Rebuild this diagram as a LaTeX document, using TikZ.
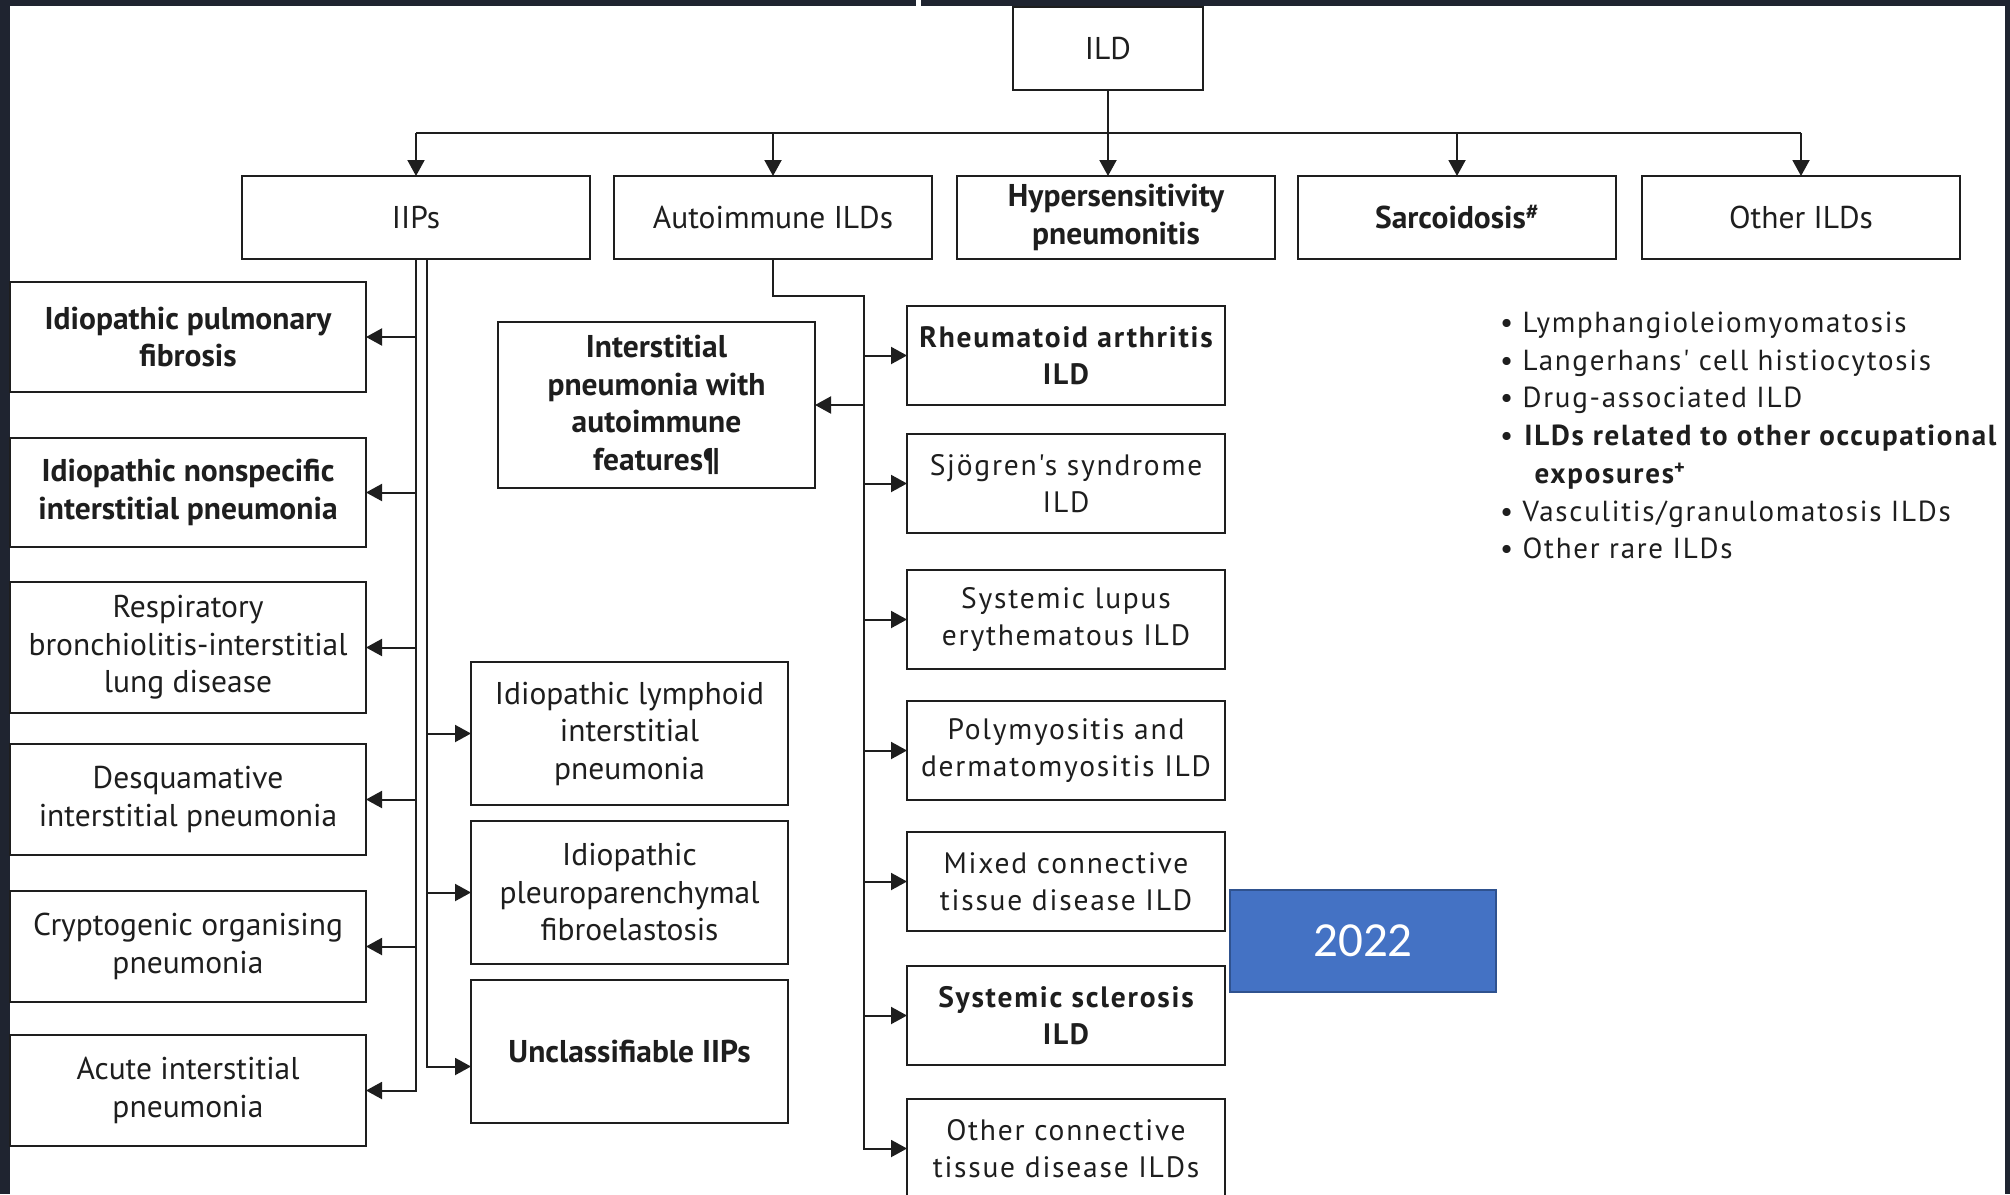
\documentclass[tikz,border=0pt]{standalone}
\usepackage{fontspec}
\setmainfont{PT Sans}
\newfontfamily\widefont[LetterSpace=6]{PT Sans}
\newfontfamily\yearfont{Carlito}
\usetikzlibrary{arrows.meta,positioning}

\definecolor{frame}{RGB}{31,36,48}
\definecolor{ink}{RGB}{30,30,30}
\definecolor{yearblue}{RGB}{68,114,196}
\definecolor{yearedge}{RGB}{47,82,143}

\newcommand{\boxfont}{\fontsize{31.5}{37.5}\selectfont}
\newcommand{\ctdfont}{\widefont\fontsize{29.5}{37.5}\selectfont}
\newcommand{\listfont}{\widefont\fontsize{29}{37.7}\selectfont}

\begin{document}
\begin{tikzpicture}[
	x = 1pt, y = -1pt, % pixel grid, y pointing down
	> = {Triangle[length=16pt, width=17pt]}, % arrow head style
	line width = 2pt,
	node distance = 33pt,
	box/.style={draw=ink, line width=2.6pt, outer sep=0pt, inner sep=0pt, align=center, text=ink, font=\boxfont},
	strong/.style={font=\boxfont\bfseries},
	head/.style={box, minimum width=318pt, minimum height=83pt},
	leaf/.style={box, minimum width=356pt, minimum height=111pt},
	mid/.style={box, minimum width=317pt, minimum height=143pt},
	ctd/.style={box, minimum width=318pt, minimum height=99pt, font=\ctdfont},
	ctdstrong/.style={font=\ctdfont\bfseries},
	list/.style={align=left, inner sep=0pt, text=ink, font=\listfont},
	]

	\useasboundingbox (0,0) rectangle (2010,1194);
	\fill[white] (0,0) rectangle (2010,1194);
	% screen frame
	\fill[frame] (0,0) rectangle (2010,6);
	\fill[frame] (0,0) rectangle (10,1194);
	\fill[frame] (2005,0) rectangle (2010,1194);
	\fill[white] (916,0) rectangle (921,6);

	% Top level and the five groups
	\node[box, minimum width=190pt, minimum height=83pt] (ild) at (1108,48.5) {ILD};
	\node[head, minimum width=348pt] (iips) at (416,217.5) {IIPs};
	\node[head] (auto)  [right = 24pt of iips] {Autoimmune ILDs};
	\node[head, strong] (hp) [right = 25pt of auto] {Hypersensitivity\\pneumonitis};
	\node[head, strong] (sarc) [right = 23pt of hp] {Sarcoidosis\textsuperscript{\#}};
	\node[head] (other) [right = 26pt of sarc] {Other ILDs};

	% IIPs, left column
	\node[leaf, strong, minimum height=110pt] (ipf) at (188,337) {Idiopathic pulmonary\\fibrosis};
	\node[leaf, strong, minimum height=109pt] (nsip) [below = 46pt of ipf] {Idiopathic nonspecific\\interstitial pneumonia};
	\node[leaf, minimum height=131pt] (rbild) [below = 35pt of nsip] {Respiratory\\bronchiolitis-interstitial\\lung disease};
	\node[leaf] (dip) [below = 31pt of rbild] {Desquamative\\interstitial pneumonia};
	\node[leaf] (cop) [below = 36pt of dip] {Cryptogenic organising\\pneumonia};
	\node[leaf] (aip) [below = 33pt of cop] {Acute interstitial\\pneumonia};

	% IIPs, middle column
	\node[mid] (lip) at (629.5,733.5) {Idiopathic lymphoid\\interstitial\\pneumonia};
	\node[mid] (ppfe) [below = 16pt of lip] {Idiopathic\\pleuroparenchymal\\fibroelastosis};
	\node[mid, strong] (uiip) [below = 16pt of ppfe] {Unclassifiable IIPs};

	% Autoimmune ILDs
	\node[box, strong, minimum width=317pt, minimum height=166pt] (ipaf) at (656.5,405) {Interstitial\\pneumonia with\\autoimmune\\features\P};
	\node[ctd, ctdstrong] (ra) at (1066,355.5) {Rheumatoid arthritis\\ILD};
	\node[ctd] (sjo)  [below = 29pt of ra]   {Sjögren's syndrome\\ILD};
	\node[ctd] (sle)  [below = 37pt of sjo]  {Systemic lupus\\erythematous ILD};
	\node[ctd] (pmdm) [below = 32pt of sle]  {Polymyositis and\\dermatomyositis ILD};
	\node[ctd] (mctd) [below = 32pt of pmdm] {Mixed connective\\tissue disease ILD};
	\node[ctd, ctdstrong] (ssc) [below = 35pt of mctd] {Systemic sclerosis\\ILD};
	\node[ctd] (octd) [below = 34pt of ssc]  {Other connective\\tissue disease ILDs};

	% Other ILDs
	\node[list, anchor=north west] (rare) at (1499,311) {%
		\textbullet\ Lymphangioleiomyomatosis\\
		\textbullet\ Langerhans' cell histiocytosis\\
		\textbullet\ Drug-associated ILD\\
		\textbullet\ \textbf{ILDs related to other occupational}\\
		\hphantom{\textbullet\ }\hspace{12pt}\textbf{exposures\textsuperscript{+}}\\
		\textbullet\ Vasculitis/granulomatosis ILDs\\
		\textbullet\ Other rare ILDs};

	\node[draw=yearedge, fill=yearblue, line width=2pt, minimum width=266pt, minimum height=102pt,
		text=white, font=\yearfont\fontsize{49}{56}\selectfont] (year) at (1363,941) {2022};

	% Paths connecting nodes
	\coordinate (bus) at (1108,133);
	\draw[->, ink] (ild.south) -- (ild.south |- hp.north);
	\draw[ink] (bus -| iips.north) -- (bus -| other.north);
	\foreach \n in {iips, auto, sarc, other}
		\draw[->, ink] (bus -| \n.north) -- (\n.north);

	% IIPs trunks
	\coordinate (iipsR) at ([xshift=11pt]iips.south);
	\draw[->, ink] (iips.south) |- (aip.east);
	\foreach \n in {ipf, nsip, rbild, dip, cop}
		\draw[->, ink] (iips.south |- \n.east) -- (\n.east);
	\draw[->, ink] (iipsR) |- ([yshift=-15pt]uiip.west);
	\foreach \n in {lip, ppfe}
		\draw[->, ink] (iipsR |- \n.west) -- (\n.west);

	% Autoimmune trunk
	\coordinate (elbow) at (864,296);
	\draw[->, ink] (auto.south) |- (elbow) |- (octd.west);
	\foreach \n in {ra, sjo, sle, pmdm, mctd, ssc}
		\draw[->, ink] (elbow |- \n.west) -- (\n.west);
	\draw[->, ink] (elbow |- ipaf.east) -- (ipaf.east);

\end{tikzpicture}
\end{document}
